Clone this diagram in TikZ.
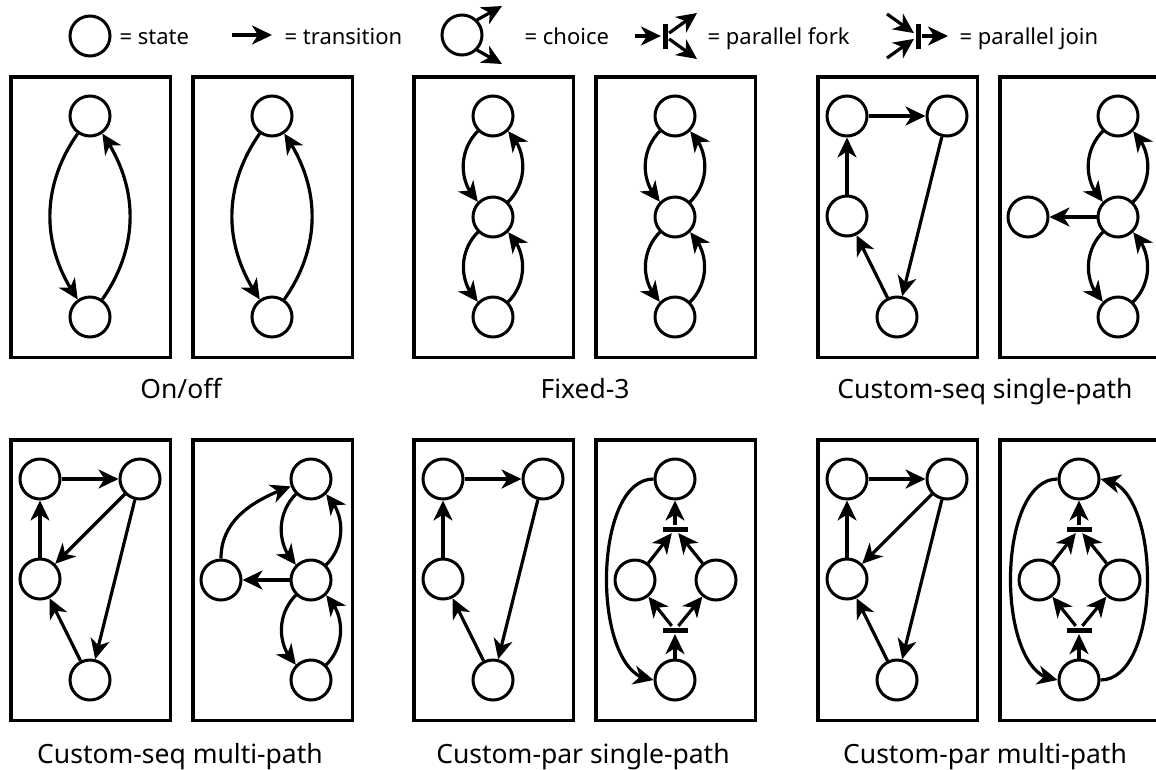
\documentclass[tikz,border=0pt]{standalone}
\usepackage{fontspec}
\setmainfont{Noto Sans}
\usetikzlibrary{arrows.meta,positioning,bending}

\begin{document}
\begin{tikzpicture}[x=1pt,y=1pt,>={Stealth[length=20pt,width=19pt,inset=6pt]},->,line width=3.2pt,on grid,
    every edge/.style={draw,line width=3.2pt},
    state node/.style={circle,draw,line width=3pt,minimum size=40pt,inner sep=0pt},
    panel box/.style={draw,line width=3.5pt,minimum width=159.5pt,minimum height=280.5pt,inner sep=0pt,anchor=north west},
    bar node/.style={fill,rectangle,inner sep=0pt,minimum width=25pt,minimum height=5pt},
    vbar node/.style={bar node,minimum width=5pt,minimum height=25pt},
    legend text/.style={anchor=base west,inner sep=0pt,font=\fontsize{22}{26}\selectfont},
    caption text/.style={anchor=base,inner sep=0pt,font=\fontsize{26.5}{30}\selectfont}]
    \useasboundingbox (0,0) rectangle (1156,-769);

    % legend
    \node[state node] (lg-state) at (90,-36) {};
    \node[legend text] (lg-state-txt) at (118,-44) {= state};
    \coordinate (lg-a) at (232,-35);
    \coordinate (lg-b) at (272,-35);
    \draw (lg-a) -- (lg-b);
    \node[legend text] (lg-trans-txt) at (283,-44) {= transition};
    \node[state node] (lg-choice) at (462,-35) {};
    \coordinate (lg-c1) at (502,-6);
    \coordinate (lg-c2) at (502,-64);
    \draw (lg-choice.45) -- (lg-c1);
    \draw (lg-choice.-45) -- (lg-c2);
    \node[legend text] (lg-choice-txt) at (523,-44) {= choice};
    \coordinate (lg-fk-in) at (635,-36);
    \node[vbar node] (lg-fk) at (665,-36) {};
    \coordinate (lg-fk-up) at (697,-13);
    \coordinate (lg-fk-dn) at (697,-59);
    \draw (lg-fk-in) -- (lg-fk);
    \draw (lg-fk) -- (lg-fk-up);
    \draw (lg-fk) -- (lg-fk-dn);
    \node[legend text] (lg-fork-txt) at (706,-44) {= parallel fork};
    \coordinate (lg-jn-up) at (887,-14);
    \coordinate (lg-jn-dn) at (887,-58);
    \node[vbar node] (lg-jn) at (918,-36) {};
    \coordinate (lg-jn-out) at (948,-36);
    \draw (lg-jn-up) -- (lg-jn);
    \draw (lg-jn-dn) -- (lg-jn);
    \draw (lg-jn) -- (lg-jn-out);
    \node[legend text] (lg-join-txt) at (958,-44) {= parallel join};

    % on/off
    \foreach \bx in {9,191}{
        \begin{scope}[shift={(\bx,-75)}]
            \node[panel box] (box) at (0,0) {};
            \node[state node] (top) at (81,-41) {};
            \node[state node] (bot) [below=201pt of top] {};
            \path (top) edge[bend right=35] (bot)
                  (bot) edge[bend right=35] (top);
        \end{scope}
    }

    % fixed-3
    \foreach \bx in {412,594}{
        \begin{scope}[shift={(\bx,-75)}]
            \node[panel box] (box) at (0,0) {};
            \node[state node] (top) at (81,-41) {};
            \node[state node] (mid) [below=101pt of top] {};
            \node[state node] (bot) [below=100pt of mid] {};
            \path (top) edge[bend right=45] (mid)
                  (mid) edge[bend right=45] (top)
                  (mid) edge[bend right=45] (bot)
                  (bot) edge[bend right=45] (mid);
        \end{scope}
    }

    % sequence, left boxes
    \foreach \bx/\by/\k in {816/75/c, 9/438/d, 412/438/e, 816/438/f}{
        \begin{scope}[shift={(\bx,-\by)}]
            \node[panel box] (box-\k) at (0,0) {};
            \node[state node] (tl-\k) at (31,-41) {};
            \node[state node] (tr-\k) [right=100pt of tl-\k] {};
            \node[state node] (ml-\k) [below=100pt of tl-\k] {};
            \node[state node] (bt-\k) [below right=101pt and 50pt of ml-\k] {};
            \path (tl-\k) edge (tr-\k)
                  (tr-\k) edge (bt-\k)
                  (bt-\k) edge (ml-\k)
                  (ml-\k) edge (tl-\k);
        \end{scope}
    }
    \path (tr-d) edge (ml-d)
          (tr-f) edge (ml-f);

    % sequence, right boxes
    \foreach \bx/\by/\k in {998/75/c, 191/438/d}{
        \begin{scope}[shift={(\bx,-\by)}]
            \node[panel box] (rbox-\k) at (0,0) {};
            \node[state node] (ct-\k) at (120,-41) {};
            \node[state node] (cm-\k) [below=101pt of ct-\k] {};
            \node[state node] (cb-\k) [below=100pt of cm-\k] {};
            \node[state node] (cl-\k) [left=90pt of cm-\k] {};
            \path (ct-\k) edge[bend right=45] (cm-\k)
                  (cm-\k) edge[bend right=45] (ct-\k)
                  (cm-\k) edge[bend right=45] (cb-\k)
                  (cb-\k) edge[bend right=45] (cm-\k)
                  (cm-\k) edge (cl-\k);
        \end{scope}
    }
    \path (cl-d) edge[out=90,in=200] (ct-d);

    % parallel, right boxes
    \foreach \bx/\k in {594/e, 998/f}{
        \begin{scope}[shift={(\bx,-438)}]
            \node[panel box] (rbox-\k) at (0,0) {};
            \node[state node] (pt-\k) at (81,-41) {};
            \node[state node] (pl-\k) [below left=101pt and 40pt of pt-\k] {};
            \node[state node] (pr-\k) [below right=101pt and 41pt of pt-\k] {};
            \node[state node] (pb-\k) [below=201pt of pt-\k] {};
            \node[bar node] (join-\k) [below=50pt of pt-\k] {};
            \node[bar node] (fork-\k) [above=50pt of pb-\k] {};
            \path (pb-\k) edge (fork-\k)
                  (fork-\k) edge (pl-\k)
                  (fork-\k) edge (pr-\k)
                  (pl-\k) edge (join-\k)
                  (pr-\k) edge (join-\k)
                  (join-\k) edge (pt-\k)
                  (pt-\k) edge[out=180,in=180,looseness=0.8] (pb-\k);
        \end{scope}
    }
    \path (pb-f) edge[out=0,in=0,looseness=0.8] (pt-f);

    % captions
    \node[caption text] (cap-a) at (181,-398) {On/off};
    \node[caption text] (cap-b) at (585,-398) {Fixed-3};
    \node[caption text] (cap-c) at (985,-398) {Custom-seq single-path};
    \node[caption text] (cap-d) at (180,-763) {Custom-seq multi-path};
    \node[caption text] (cap-e) at (583,-763) {Custom-par single-path};
    \node[caption text] (cap-f) at (985,-763) {Custom-par multi-path};
\end{tikzpicture}
\end{document}
